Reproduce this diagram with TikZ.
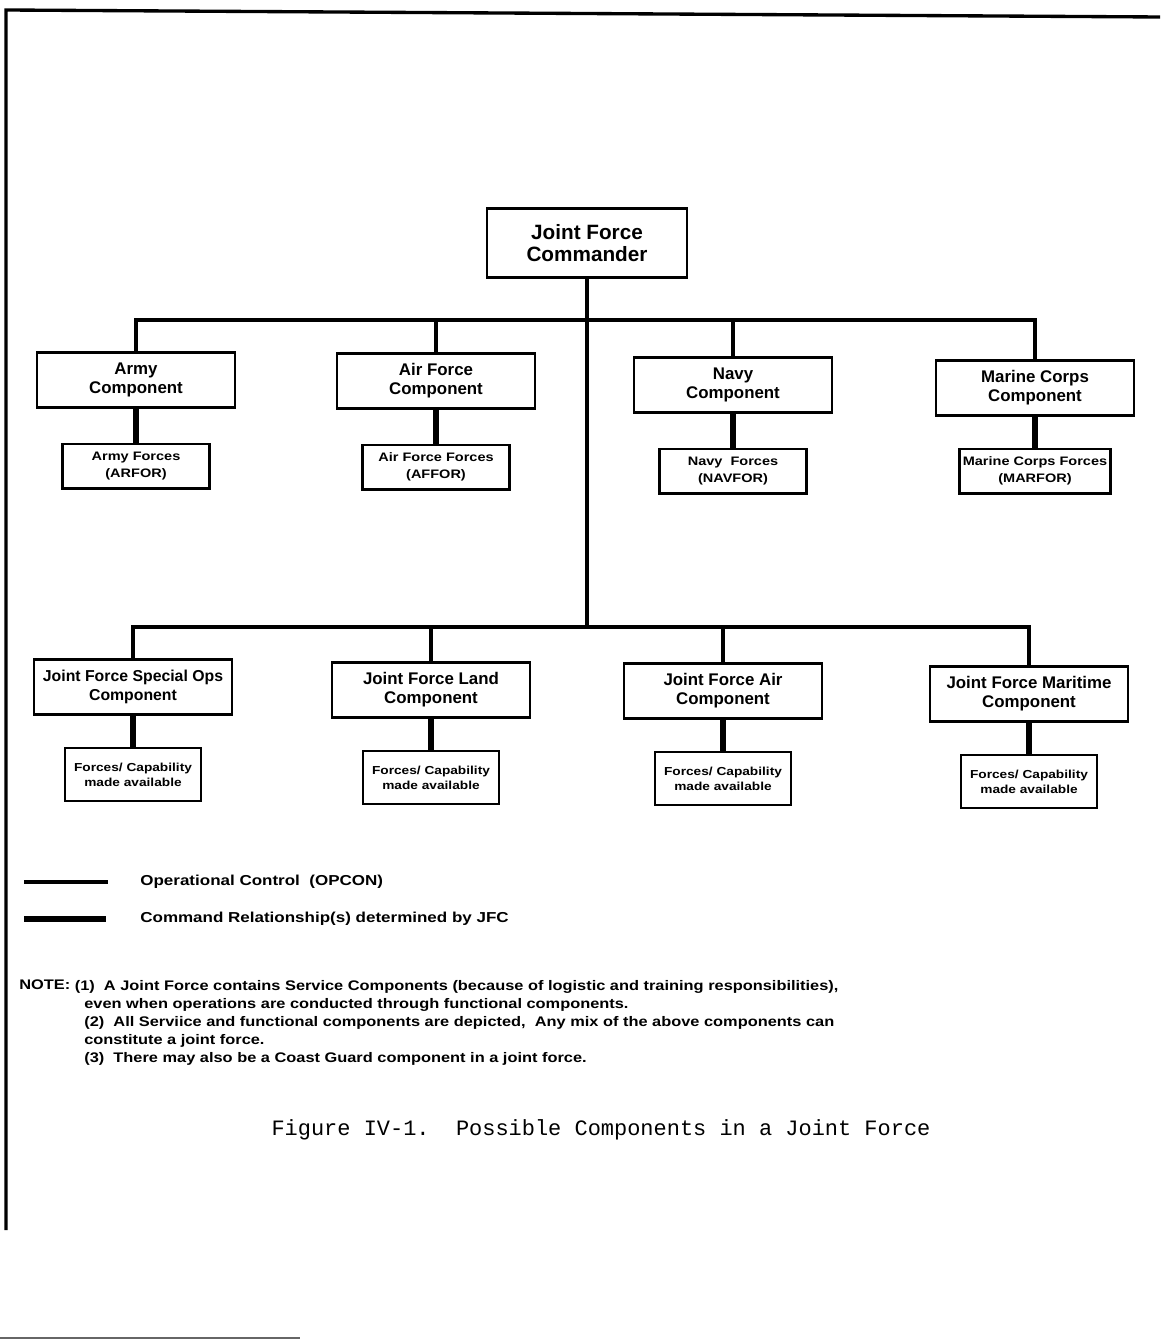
\documentclass[tikz,border=0pt]{standalone}
\usepackage{fontspec}
\setmainfont{Liberation Sans}
\setmonofont{Liberation Mono}
\newfontfamily\widefont[FakeStretch=1.18]{Liberation Sans}
\usetikzlibrary{positioning}

\begin{document}
\begin{tikzpicture}[
  x=0.02cm, y=-0.02cm,
  node distance = 0.68cm,
  box/.style     = {draw, line width=1.4pt, align=center, inner sep=2pt},
  cmdr/.style    = {box, minimum width=4cm, minimum height=1.38cm,
                    font=\fontsize{11.8}{12.5}\selectfont\bfseries},
  comp/.style    = {box, minimum width=3.96cm, minimum height=1.1cm,
                    font=\fontsize{9.6}{10.8}\selectfont\bfseries},
  svcf/.style    = {box, minimum width=2.94cm, minimum height=0.89cm,
                    font=\widefont\fontsize{7}{9.7}\selectfont\bfseries},
  capf/.style    = {box, minimum width=2.72cm, minimum height=1.06cm,
                    font=\widefont\fontsize{6.6}{8.5}\selectfont\bfseries},
  opcon/.style   = {line width=1.8pt},
  cmdrel/.style  = {line width=3.8pt},
  legtext/.style = {anchor=west, inner sep=0pt,
                    font=\widefont\fontsize{8.2}{10}\selectfont\bfseries},
  notetext/.style= {inner sep=0pt, align=left,
                    font=\widefont\fontsize{7.9}{10.2}\selectfont\bfseries},
]
\useasboundingbox (0,0) rectangle (1160,1341);
\draw[line width=1.9pt] (6,1230) -- (6,10) -- (1160,17);
\draw[black!60, line width=1.2pt] (0,1338) -- (300,1338);

\node[cmdr] (jfc) at (587,243) {Joint Force\\Commander};

\node[comp] (army)     at (136,380)  {Army\\Component};
\node[comp] (airforce) at (436,381)  {Air Force\\Component};
\node[comp] (navy)     at (733,385)  {Navy\\Component};
\node[comp] (marine)   at (1035,388) {Marine Corps\\Component};
\node[svcf, below=of army]     (army-f)     {Army Forces\\(ARFOR)};
\node[svcf, below=of airforce] (airforce-f) {Air Force Forces\\(AFFOR)};
\node[svcf, below=of navy]     (navy-f)     {Navy\ \ Forces\\(NAVFOR)};
\node[svcf, below=0.62cm of marine] (marine-f) {Marine Corps Forces\\(MARFOR)};

\node[comp, font=\fontsize{9}{10.8}\selectfont\bfseries]
            (specops)  at (133,687)  {Joint Force Special Ops\\Component};
\node[comp] (land)     at (431,690)  {Joint Force Land\\Component};
\node[comp] (jfair)    at (723,691)  {Joint Force Air\\Component};
\node[comp] (maritime) at (1029,694) {Joint Force Maritime\\Component};
\node[capf, below=0.62cm of specops]  (specops-f)  {Forces/ Capability\\made available};
\node[capf, below=0.62cm of land]     (land-f)     {Forces/ Capability\\made available};
\node[capf, below=0.62cm of jfair]    (jfair-f)    {Forces/ Capability\\made available};
\node[capf, below=0.62cm of maritime] (maritime-f) {Forces/ Capability\\made available};

\coordinate (hub1) at (587,320);
\coordinate (hub2) at (587,627);
\draw[opcon] (jfc.south) -- (hub2);
\draw[opcon] (army.north) |- (hub1) -| (marine.north);
\draw[opcon] (airforce.north) -- (airforce.north |- hub1);
\draw[opcon] (navy.north) -- (navy.north |- hub1);
\draw[opcon] (specops.north) |- (hub2) -| (maritime.north);
\draw[opcon] (land.north) -- (land.north |- hub2);
\draw[opcon] (jfair.north) -- (jfair.north |- hub2);
\foreach \c in {army,airforce,navy,marine,specops,land,jfair,maritime}
  \draw[cmdrel] (\c.south) -- (\c-f.north);

\coordinate (op-a) at (24,882);
\coordinate (op-b) at (108,882);
\draw[opcon] (op-a) -- (op-b);
\node[legtext] (op-text) at (140,882) {Operational Control\ \ (OPCON)};
\coordinate (cr-a) at (24,919);
\coordinate (cr-b) at (106,919);
\draw[cmdrel] (cr-a) -- (cr-b);
\node[legtext] (cr-text) at (140,919) {Command Relationship(s) determined by JFC};

\node[notetext, anchor=base west] (note-head) at (19,989) {NOTE:};
\node[notetext, anchor=north west] (note-body) at (84,980)
  {\hspace*{-5.4pt}(1)\ \ A Joint Force contains Service Components (because of logistic and training responsibilities),\\
   even when operations are conducted through functional components.\\
   (2)\ \ All Serviice and functional components are depicted,\ \ Any mix of the above components can\\
   constitute a joint force.\\
   (3)\ \ There may also be a Coast Guard component in a joint force.};

\node[font=\ttfamily\fontsize{12.5}{14}\selectfont] (caption) at (601,1130)
  {Figure IV-1.\ \ Possible Components in a Joint Force};
\end{tikzpicture}
\end{document}
